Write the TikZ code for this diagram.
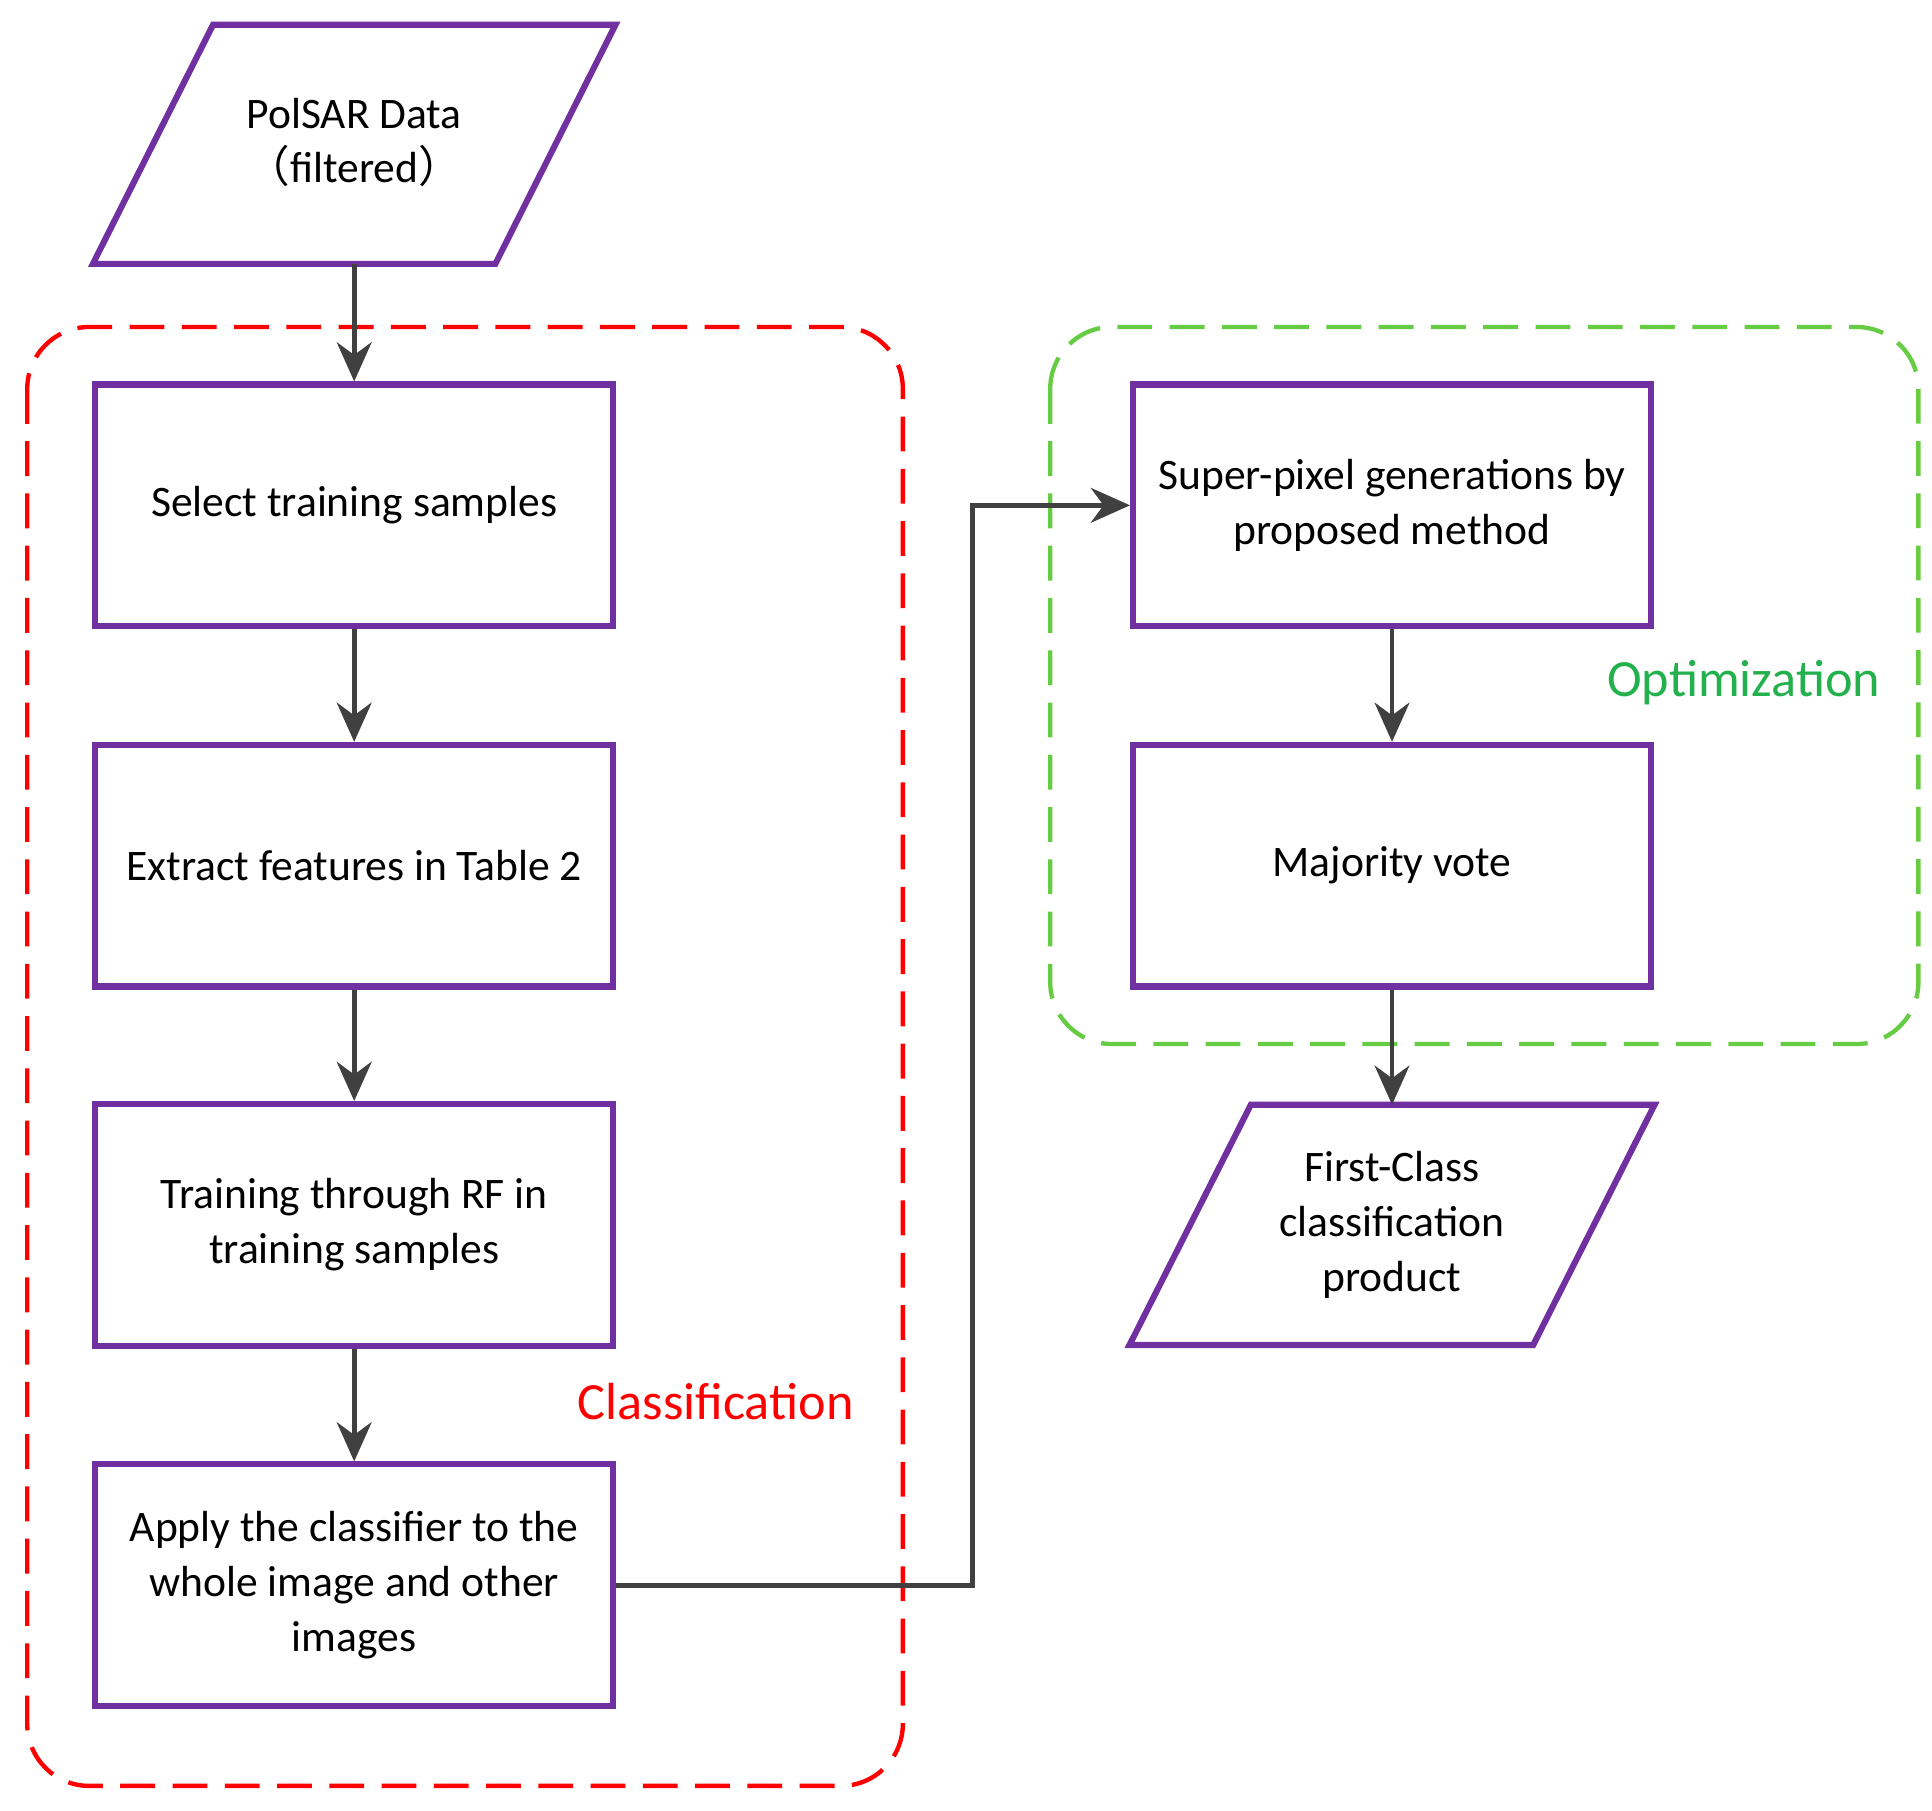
\documentclass[tikz,border=0pt]{standalone}
\usepackage{fontspec}
\setmainfont{Carlito}
\newfontfamily\cjk{Noto Sans CJK SC}
\usetikzlibrary{arrows.meta}
\definecolor{pur}{HTML}{7030A0}
\definecolor{arr}{HTML}{404040}
\definecolor{grn}{HTML}{66CC44}
\definecolor{grnt}{HTML}{22B14C}
\begin{document}
\begin{tikzpicture}[x=0.01cm,y=-0.01cm,
  box/.style={draw=pur,line width=1.4pt,minimum width=4.18cm,minimum height=1.95cm,align=center,font=\fontsize{10}{12.6}\selectfont,inner sep=0pt},
  io/.style={draw=pur,line width=1.4pt,line join=miter},
  txt/.style={align=center,font=\fontsize{10}{12.6}\selectfont},
  ar/.style={draw=arr,line width=1.1pt,-{Stealth[length=9pt,width=8pt]}}]
\useasboundingbox (0,0) rectangle (1560,1462);
% groups
\draw[red,line width=1pt,dash pattern=on 8pt off 4pt,rounded corners=0.5cm] (22,264) rectangle (729,1442);
\draw[grn,line width=1pt,dash pattern=on 8pt off 4pt,rounded corners=0.5cm] (848,264) rectangle (1549,843);
\node[red,font=\fontsize{12}{14}\selectfont] (lc) at (578,1132) {Classification};
\node[grnt,font=\fontsize{12}{14}\selectfont] (lo) at (1408,551) {Optimization};
% input
\draw[io] (172,20) -- (497,20) -- (400,213) -- (75,213) -- cycle;
\node[txt] (in) at (286,115) {PolSAR Data\\{\cjk （}filtered{\cjk ）}};
\coordinate (inb) at (286,213);
\node[box] (b1) at (286,408) {Select training samples};
\node[box] (b2) at (286,699) {Extract features in Table 2};
\node[box] (b3) at (286,989) {Training through RF in\\training samples};
\node[box] (b4) at (286,1280) {Apply the classifier to the\\whole image and other\\images};
\node[box] (b5) at (1124,408) {Super-pixel generations by\\proposed method};
\node[box] (b6) at (1124,699) {Majority vote};
\draw[io] (1010,892) -- (1336,892) -- (1238,1086) -- (912,1086) -- cycle;
\node[txt] (out) at (1124,989) {First-Class\\classification\\product};
\coordinate (outt) at (1124,892);
% arrows
\draw[ar] (inb) -- (b1.north);
\draw[ar] (b1) -- (b2);
\draw[ar] (b2) -- (b3);
\draw[ar] (b3) -- (b4);
\draw[ar] (b4.east) -- (785,1280) -- (785,408) -- (b5.west);
\draw[ar] (b5) -- (b6);
\draw[ar] (b6.south) -- (outt);
\end{tikzpicture}
\end{document}
